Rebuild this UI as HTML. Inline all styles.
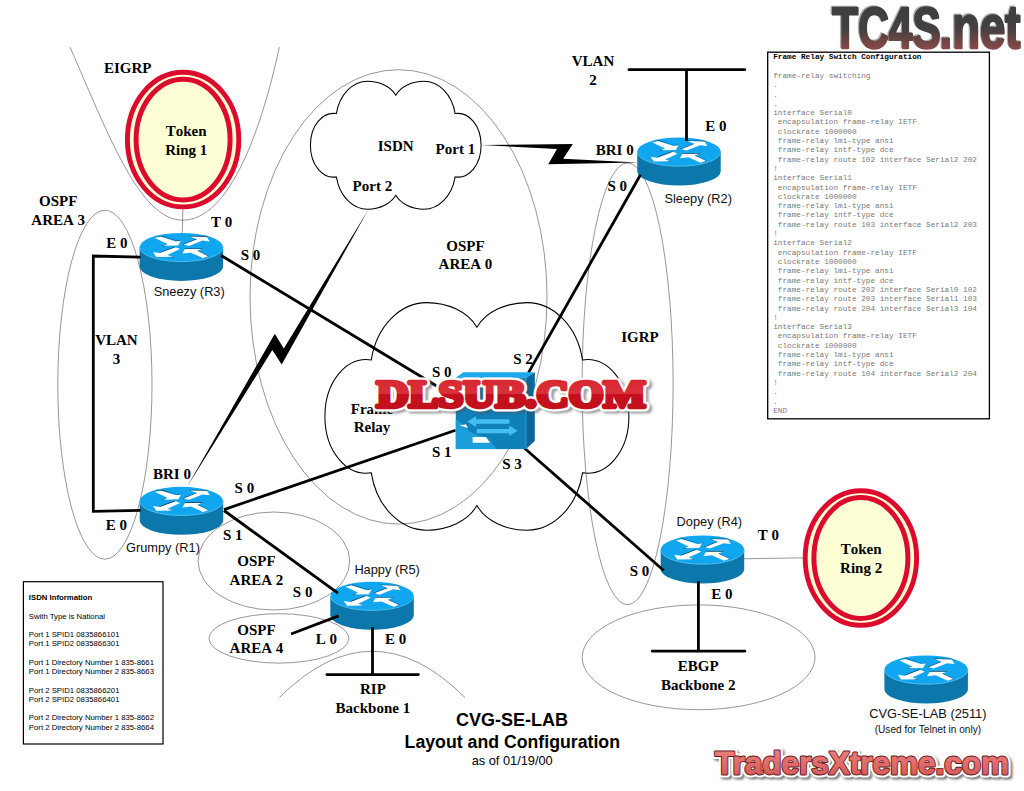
<!DOCTYPE html>
<html><head><meta charset="utf-8"><title>CVG-SE-LAB Layout and Configuration</title>
<style>
html,body{margin:0;padding:0;background:#fff;}
body{width:1024px;height:791px;overflow:hidden;font-family:"Liberation Sans",sans-serif;}
svg{display:block;}
</style></head><body>
<svg width="1024" height="791" viewBox="0 0 1024 791">
<defs>
<linearGradient id="tcg" gradientUnits="userSpaceOnUse" x1="0" y1="-44" x2="0" y2="2">
 <stop offset="0" stop-color="#3e3e3e"/><stop offset="0.55" stop-color="#444040"/><stop offset="1" stop-color="#8a4a48"/>
</linearGradient>
<linearGradient id="trg" x1="0" y1="0" x2="0" y2="1">
 <stop offset="0" stop-color="#f28484"/><stop offset="1" stop-color="#d05454"/>
</linearGradient>
<linearGradient id="dlg" x1="0" y1="0" x2="0" y2="1">
 <stop offset="0" stop-color="#d8242c"/><stop offset="0.5" stop-color="#d8303a"/><stop offset="0.52" stop-color="#c40f1c"/><stop offset="1" stop-color="#c40f1c"/>
</linearGradient>
<filter id="sh" x="-10%" y="-30%" width="120%" height="180%"><feGaussianBlur stdDeviation="1.2"/></filter>
<clipPath id="clipRip"><rect x="0" y="0" width="1024" height="697.5"/></clipPath>
<clipPath id="clipEig"><rect x="0" y="46.4" width="1024" height="800"/></clipPath>
<g id="router">
  <!-- display coords: 1 unit = 0.0898 px ; body -->
  <path d="M40,215 L40,430 A465,160 0 0 0 970,430 L970,215 Z" fill="#0c77aa"/>
  <ellipse cx="505" cy="215" rx="465" ry="160" fill="#10a7f0"/>
  <path d="M40,215 A465,160 0 0 0 970,215" fill="none" stroke="#5cc4f2" stroke-width="9"/>
  <!-- arrow shadows -->
  <g fill="#0a3f5e">
   <polygon points="222,100 284,86 455,140 505,132 480,150 300,98"/>
   <polygon points="290,200 345,180 360,186 310,206"/>
   <polygon points="590,88 790,92 800,104 610,100"/>
   <polygon points="520,182 680,118 690,128 545,190"/>
   <polygon points="430,208 262,272 275,282 445,220"/>
   <polygon points="345,302 420,325 400,328 340,310"/>
   <polygon points="540,228 740,228 730,240 550,240"/>
   <polygon points="680,250 810,312 800,320 670,258"/>
  </g>
  <g fill="#fff">
   <polygon points="210,112 272,95 445,150 500,140 470,195 300,198 350,178"/>
   <polygon points="600,95 790,100 820,150 740,140 590,200 530,185 680,125"/>
   <polygon points="440,215 490,235 350,300 415,320 225,322 190,270 265,280"/>
   <polygon points="545,235 735,235 680,255 805,315 745,335 610,275 515,285"/>
  </g>
</g>
</defs>
<rect width="1024" height="791" fill="#fff"/>
<g stroke="#6a6a6a" stroke-width="0.7" fill="none">
<ellipse cx="104.9" cy="384.7" rx="47.1" ry="174.5"/>
<ellipse cx="398.5" cy="296.9" rx="148.5" ry="227.2"/>
<ellipse cx="627.6" cy="383.8" rx="45.5" ry="220.9"/>
<ellipse cx="273.9" cy="561" rx="75.8" ry="49"/>
<ellipse cx="278.9" cy="638.4" rx="69.9" ry="24.7"/>
<ellipse cx="698.6" cy="657.3" rx="116.4" ry="52.4"/>
<path d="M279.4,697.5 Q372.2,605 465,697.5"/>
<path d="M70.1,47.2 C108,134 140,220.2 182.5,220.2 C230,220.2 262.2,127.2 279.3,47.2"/>
<line x1="183" y1="205" x2="182.2" y2="234"/>
<line x1="744" y1="558.8" x2="804" y2="557.8"/>
</g>
<path d="M336.4,113.6 C339.4,94.1 353.1,81.3 367.5,81.3 C379.5,81.3 390.6,86.5 395.8,95.2 C400.9,86.5 412.0,81.3 424.0,81.3 C438.4,81.3 452.1,94.1 455.1,113.6 C469.2,111.4 481.1,126.1 481.1,145.2 C481.1,164.4 469.2,179.1 455.1,176.9 C452.1,196.4 438.4,209.2 424.0,209.2 C412.0,209.2 400.9,204.0 395.8,195.3 C390.6,204.0 379.5,209.2 367.5,209.2 C353.1,209.2 339.4,196.4 336.4,176.9 C322.3,179.1 310.4,164.4 310.4,145.2 C310.4,126.1 322.3,111.4 336.4,113.6Z" fill="none" stroke="#000" stroke-width="1.05"/>
<path d="M371.3,360.0 C376.6,325.4 400.9,302.6 426.6,302.6 C448.0,302.6 467.8,311.7 476.9,327.2 C486.0,311.7 505.8,302.6 527.2,302.6 C552.9,302.6 577.2,325.4 582.5,360.0 C607.6,356.1 628.9,382.3 628.9,416.4 C628.9,450.5 607.6,476.7 582.5,472.8 C577.2,507.4 552.9,530.2 527.2,530.2 C505.8,530.2 486.0,521.1 476.9,505.6 C467.8,521.1 448.0,530.2 426.6,530.2 C400.9,530.2 376.6,507.4 371.3,472.8 C346.2,476.7 324.9,450.5 324.9,416.4 C324.9,382.3 346.2,356.1 371.3,360.0Z" fill="none" stroke="#000" stroke-width="1.05"/>
<ellipse cx="183.1" cy="139.6" rx="55.7" ry="67.3" fill="#ffffd6" stroke="#dc0a2e" stroke-width="4.9"/>
<ellipse cx="183.1" cy="139.6" rx="47" ry="60.4" fill="#ffffd6" stroke="#dc0a2e" stroke-width="5"/>
<ellipse cx="860.9" cy="558" rx="55.7" ry="67.3" fill="#ffffd6" stroke="#dc0a2e" stroke-width="4.9"/>
<ellipse cx="860.9" cy="558" rx="47" ry="60.4" fill="#ffffd6" stroke="#dc0a2e" stroke-width="5"/>
<use href="#router" transform="translate(136.01,227.96) scale(0.0898)"/>
<use href="#router" transform="translate(633.61,132.56) scale(0.0898)"/>
<use href="#router" transform="translate(136.11,481.86) scale(0.0898)"/>
<use href="#router" transform="translate(326.71,576.76) scale(0.0898)"/>
<use href="#router" transform="translate(657.11,530.56) scale(0.0898)"/>
<use href="#router" transform="translate(880.81,650.56) scale(0.0898)"/>
<g stroke="#000" stroke-width="2.8" fill="none" stroke-linecap="butt">
<polyline points="140.5,257.1 93.3,256 93.3,511.3 140.5,510.3"/>
<line x1="629" y1="69.7" x2="744.8" y2="69.7" stroke-linecap="round"/><line x1="686.5" y1="69.7" x2="686.5" y2="141"/>
<line x1="221.2" y1="255.5" x2="456" y2="397.8"/>
<line x1="640.5" y1="174.7" x2="528.5" y2="372.6"/>
<line x1="224" y1="509.6" x2="455.5" y2="430.2"/>
<line x1="224" y1="510.5" x2="337.9" y2="593.1"/>
<line x1="523.4" y1="447.2" x2="663.7" y2="570.5"/>
<line x1="291" y1="634" x2="338.6" y2="615.9"/>
<line x1="372.5" y1="627" x2="372.5" y2="674.6"/><line x1="326.9" y1="674.6" x2="418.4" y2="674.6" stroke-linecap="round"/>
<line x1="698.4" y1="581" x2="698.4" y2="651.2"/><line x1="652.3" y1="651.2" x2="744.8" y2="651.2" stroke-linecap="round"/>
</g>
<polygon points="368.6,209.2 283.8,348.4 274.8,333.8 186.5,487.7 272.3,350.1 281.7,364.4" fill="#000"/>
<polygon points="481.4,145.1 572.8,144.1 563.2,158.7 637.9,162.5 548.2,164.3 557.0,149.0" fill="#000"/>
<g>
<polygon points="455.8,377.7 463.4,372.3 534.8,372.3 526,377.7" fill="#18aaea"/>
<polygon points="526,377.7 534.8,372.3 534.8,440.9 526,449.1" fill="#0a6797"/>
<rect x="455.8" y="377.7" width="70.2" height="71.4" fill="#0f80b8"/>
<polygon points="455.8,419.4 465.3,425.7 469.1,431.4 477.9,435.2 488.7,439 493.7,445.3 496.9,449.1 455.8,449.1" fill="#1a9fdb"/>
<polygon points="459.5,425.5 466,424.2 468,428" fill="#fff"/>
<polygon points="472.6,437.1 486,437.1 489.9,442.8 472.6,442.8" fill="#fff"/>
<polygon points="467.2,421.6 476,416.2 476,419.2 509.5,419.2 509.5,423.8 476,423.8 476,427" fill="#45bef2"/>
<polygon points="517.7,430.8 509.3,425.7 509.3,428.9 476.7,428.9 476.7,433.3 509.3,433.3 509.3,435.8" fill="#45bef2"/>
<line x1="526" y1="377.7" x2="526" y2="449.1" stroke="#4ab8e8" stroke-width="0.6"/>
</g>
<g font-family="Liberation Serif, serif" font-weight="bold" font-size="15" text-anchor="middle" fill="#000" style="font-kerning:none">
<text x="127.7" y="73.2">EIGRP</text>
<text x="186.2" y="136.4">Token</text>
<text x="186.2" y="155.2">Ring 1</text>
<text x="58.2" y="205.8">OSPF</text>
<text x="58.2" y="225.0">AREA 3</text>
<text x="117.0" y="247.8">E 0</text>
<text x="221.6" y="226.5">T 0</text>
<text x="250.5" y="260.4">S 0</text>
<text x="116.4" y="344.9">VLAN</text>
<text x="116.4" y="364.1">3</text>
<text x="395.7" y="150.6">ISDN</text>
<text x="455.4" y="154.2">Port 1</text>
<text x="372.4" y="191.1">Port 2</text>
<text x="465.5" y="251.3">OSPF</text>
<text x="465.5" y="269.0">AREA 0</text>
<text x="441.7" y="376.8">S 0</text>
<text x="593.0" y="66.1">VLAN</text>
<text x="593.0" y="84.5">2</text>
<text x="716.0" y="131.4">E 0</text>
<text x="614.7" y="154.7">BRI 0</text>
<text x="617.2" y="191.1">S 0</text>
<text x="640.0" y="342.4">IGRP</text>
<text x="523.0" y="364.2">S 2</text>
<text x="372.0" y="413.6">Frame</text>
<text x="372.0" y="432.3">Relay</text>
<text x="441.7" y="456.6">S 1</text>
<text x="512.0" y="469.1">S 3</text>
<text x="172.0" y="479.4">BRI 0</text>
<text x="244.4" y="493.1">S 0</text>
<text x="116.4" y="530.0">E 0</text>
<text x="232.8" y="540.1">S 1</text>
<text x="256.5" y="566.4">OSPF</text>
<text x="256.5" y="584.6">AREA 2</text>
<text x="302.6" y="596.8">S 0</text>
<text x="256.5" y="634.7">OSPF</text>
<text x="256.5" y="652.9">AREA 4</text>
<text x="326.4" y="643.8">L 0</text>
<text x="395.7" y="643.8">E 0</text>
<text x="372.9" y="694.4">RIP</text>
<text x="372.9" y="713.1">Backbone 1</text>
<text x="768.5" y="540.1">T 0</text>
<text x="639.5" y="575.5">S 0</text>
<text x="722.0" y="599.3">E 0</text>
<text x="861.1" y="554.3">Token</text>
<text x="861.1" y="572.9">Ring 2</text>
<text x="698.2" y="670.6">EBGP</text>
<text x="698.2" y="690.0">Backbone 2</text>
</g>
<g font-family="Liberation Sans, sans-serif" font-size="12.8" text-anchor="middle" fill="#111">
<text x="189.2" y="296.4">Sneezy (R3)</text>
<text x="698.2" y="203.3">Sleepy (R2)</text>
<text x="163.0" y="552.3">Grumpy (R1)</text>
<text x="387.1" y="573.5">Happy (R5)</text>
<text x="709.3" y="526.4">Dopey (R4)</text>
<text x="927.9" y="717.7">CVG-SE-LAB (2511)</text>
<text x="927.9" y="733.2" font-size="10.1">(Used for Telnet in only)</text>
</g>
<g font-family="Liberation Sans, sans-serif" text-anchor="middle" fill="#000">
<text x="512" y="726.1" font-size="18" font-weight="bold">CVG-SE-LAB</text>
<text x="512.3" y="747.7" font-size="18" font-weight="bold" textLength="215.4" lengthAdjust="spacingAndGlyphs">Layout and Configuration</text>
<text x="512.2" y="764.8" font-size="12.8">as of 01/19/00</text>
</g>
<rect x="23.4" y="581.7" width="139.6" height="162.3" fill="#fff" stroke="#000" stroke-width="1.2"/>
<g font-family="Liberation Sans, sans-serif" font-size="7.78" fill="#000">
<text x="28.8" y="599.70"><tspan font-weight='bold'>ISDN Information</tspan></text>
<text x="28.8" y="618.60">Swith Type is National</text>
<text x="28.8" y="637.10">Port 1 SPID1 0835866101</text>
<text x="28.8" y="646.35">Port 1 SPID2 0835866301</text>
<text x="28.8" y="664.85">Port 1 Directory Number 1 835-8661</text>
<text x="28.8" y="674.10">Port 1 Directory Number 2 835-8663</text>
<text x="28.8" y="692.60">Port 2 SPID1 0835866201</text>
<text x="28.8" y="701.85">Port 2 SPID2 0835866401</text>
<text x="28.8" y="720.35">Port 2 Directory Number 1 835-8662</text>
<text x="28.8" y="729.60">Port 2 Directory Number 2 835-8664</text>
</g>
<rect x="767.7" y="52.2" width="221.7" height="366.6" fill="#fff" stroke="#000" stroke-width="1.3"/>
<g font-family="Liberation Mono, monospace" font-size="7.73" fill="#7a7a7a">
<text x="773.20" y="59.30"><tspan font-weight='bold' fill='#000'>Frame Relay Switch Configuration</tspan></text>
<text x="773.20" y="77.91">frame-relay switching</text>
<text x="773.20" y="87.22">.</text>
<text x="773.20" y="96.52">.</text>
<text x="773.20" y="105.82">.</text>
<text x="773.20" y="115.13">interface Serial0</text>
<text x="777.84" y="124.43">encapsulation frame-relay IETF</text>
<text x="777.84" y="133.74">clockrate 1000000</text>
<text x="777.84" y="143.05">frame-relay lmi-type ansi</text>
<text x="777.84" y="152.35">frame-relay intf-type dce</text>
<text x="777.84" y="161.65">frame-relay route 102 interface Serial2 202</text>
<text x="773.20" y="170.96">!</text>
<text x="773.20" y="180.26">interface Serial1</text>
<text x="777.84" y="189.57">encapsulation frame-relay IETF</text>
<text x="777.84" y="198.88">clockrate 1000000</text>
<text x="777.84" y="208.18">frame-relay lmi-type ansi</text>
<text x="777.84" y="217.49">frame-relay intf-type dce</text>
<text x="777.84" y="226.79">frame-relay route 103 interface Serial2 203</text>
<text x="773.20" y="236.09">!</text>
<text x="773.20" y="245.40">interface Serial2</text>
<text x="777.84" y="254.70">encapsulation frame-relay IETF</text>
<text x="777.84" y="264.01">clockrate 1000000</text>
<text x="777.84" y="273.31">frame-relay lmi-type ansi</text>
<text x="777.84" y="282.62">frame-relay intf-type dce</text>
<text x="777.84" y="291.93">frame-relay route 202 interface Serial0 102</text>
<text x="777.84" y="301.23">frame-relay route 203 interface Serial1 103</text>
<text x="777.84" y="310.53">frame-relay route 204 interface Serial3 104</text>
<text x="773.20" y="319.84">!</text>
<text x="773.20" y="329.14">interface Serial3</text>
<text x="777.84" y="338.45">encapsulation frame-relay IETF</text>
<text x="777.84" y="347.75">clockrate 1000000</text>
<text x="777.84" y="357.06">frame-relay lmi-type ansi</text>
<text x="777.84" y="366.37">frame-relay intf-type dce</text>
<text x="777.84" y="375.67">frame-relay route 104 interface Serial2 204</text>
<text x="773.20" y="384.98">!</text>
<text x="773.20" y="394.28">.</text>
<text x="773.20" y="403.58">.</text>
<text x="773.20" y="412.89">END</text>
</g>
<g font-family="Liberation Sans, sans-serif" font-weight="bold" font-size="57" stroke-linejoin="round">
<text transform="translate(831.1,46.9) scale(0.745,1)" fill="#b0b0b0" stroke="#b0b0b0" stroke-width="2.6">TC4S</text>
<text transform="translate(938.4,46.9) scale(0.80,1.06)" fill="#b0b0b0" stroke="#b0b0b0" stroke-width="2.6">.net</text>
<text transform="translate(832.2,47.8) scale(0.745,1)" fill="url(#tcg)" stroke="url(#tcg)" stroke-width="2.4">TC4S</text>
<text transform="translate(939.5,47.8) scale(0.80,1.06)" fill="url(#tcg)" stroke="url(#tcg)" stroke-width="2.4">.net</text>
</g>
<g font-family="Liberation Serif, serif" font-weight="bold" font-size="38.5" stroke-linejoin="round">
<text x="379.3" y="409.2" textLength="269" lengthAdjust="spacingAndGlyphs" fill="#555" stroke="#555" stroke-width="9" opacity="0.55" filter="url(#sh)">DLSUB.COM</text>
<text x="376.5" y="406.7" textLength="269" lengthAdjust="spacingAndGlyphs" fill="#fff" stroke="#fff" stroke-width="9">DLSUB.COM</text>
<text x="376.5" y="406.7" textLength="269" lengthAdjust="spacingAndGlyphs" fill="url(#dlg)" stroke="url(#dlg)" stroke-width="4.4">DLSUB.COM</text>
</g>
<g font-family="Liberation Sans, sans-serif" font-weight="bold" font-size="32" stroke-linejoin="round">
<text x="717" y="776" textLength="294" lengthAdjust="spacingAndGlyphs" fill="#222" stroke="#222" stroke-width="7" opacity="0.6" filter="url(#sh)">TradersXtreme.com</text>
<text x="715" y="774" textLength="294" lengthAdjust="spacingAndGlyphs" fill="#fff" stroke="#fff" stroke-width="7">TradersXtreme.com</text>
<text x="715" y="774" textLength="294" lengthAdjust="spacingAndGlyphs" fill="#5a1818" stroke="#5a1818" stroke-width="2.8">TradersXtreme.com</text>
<text x="715" y="774" textLength="294" lengthAdjust="spacingAndGlyphs" fill="url(#trg)" stroke="url(#trg)" stroke-width="1">TradersXtreme.com</text>
</g>
</svg>
</body></html>
